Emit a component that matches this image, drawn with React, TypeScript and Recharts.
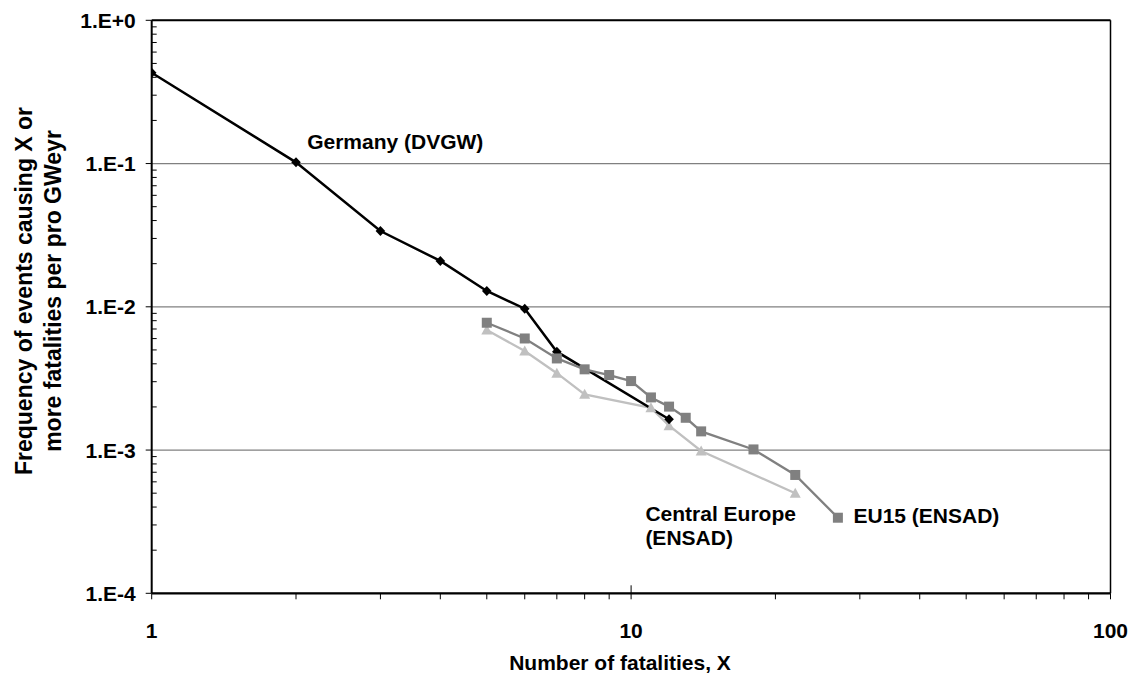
import React from 'react';
import {
  LineChart,
  Line,
  XAxis,
  YAxis,
  CartesianGrid,
  ReferenceDot,
  ReferenceLine,
} from 'recharts';

// values (log-log)
const germanyX = [1, 2, 3, 4, 5, 6, 7, 12];
const germanyY = [0.43, 0.102, 0.0338, 0.0209, 0.0129, 0.0097, 0.00486, 0.00164];

const eu15X = [5, 6, 7, 8, 9, 10, 11, 12, 13, 14, 18, 22, 27];
const eu15Y = [0.00774, 0.00601, 0.00436, 0.00366, 0.00334, 0.00303, 0.00233, 0.00201, 0.00168, 0.00135, 0.00101, 0.00067, 0.000337];

const centralX = [5, 6, 7, 8, 11, 12, 14, 22];
const centralY = [0.00689, 0.00491, 0.00344, 0.00245, 0.00197, 0.00148, 0.000985, 0.000499];

const xTicks = [1, 2, 3, 4, 5, 6, 7, 8, 9, 10, 20, 30, 40, 50, 60, 70, 80, 90, 100];
const xLabelled = [1, 10, 100];
const yTicks = [0.0001, 0.001, 0.01, 0.1, 1];
const yMinorTicks = [0.0001, 0.001, 0.01, 0.1].flatMap(d => [2, 3, 4, 5, 6, 7, 8, 9].map(m => +(d * m).toPrecision(3)));

const zip = (xs: number[], ys: number[]) => xs.map((x, i) => ({ x, y: ys[i] }));
const germany = zip(germanyX, germanyY);
const eu15 = zip(eu15X, eu15Y);
const central = zip(centralX, centralY);

const FONT = '"Liberation Sans", Arial, sans-serif';

const expLabel = (v: number) => {
  const e = Math.round(Math.log10(v));
  return `1.E${e >= 0 ? '+' : ''}${e}`;
};

const Diamond = (props: any) => {
  const { cx, cy, index } = props;
  if (cx == null || cy == null) return null;
  return <path key={`g-${index}`} d={`M${cx},${cy - 5}L${cx + 4.8},${cy}L${cx},${cy + 5}L${cx - 4.8},${cy}Z`} fill="#000" />;
};

const Square = (props: any) => {
  const { cx, cy, index } = props;
  if (cx == null || cy == null) return null;
  return <rect key={`s-${index}`} x={cx - 5} y={cy - 5} width={10} height={10} fill="#808080" />;
};

const Triangle = (props: any) => {
  const { cx, cy, index } = props;
  if (cx == null || cy == null) return null;
  return <path key={`t-${index}`} d={`M${cx},${cy - 5.5}L${cx + 5.5},${cy + 4.5}L${cx - 5.5},${cy + 4.5}Z`} fill="#c0c0c0" />;
};

const Anno = (props: any) => {
  const { viewBox, lines } = props;
  if (!viewBox) return null;
  const { x, y } = viewBox;
  return (
    <text x={x} y={y} fontSize={21} fontWeight="bold" fontFamily={FONT} fill="#000" dominantBaseline="central">
      {lines.map((l: string, i: number) => (
        <tspan key={i} x={x} dy={i === 0 ? 0 : 24}>{l}</tspan>
      ))}
    </text>
  );
};

const XTitle = () => (
  <text x={620} y={670} textAnchor="middle" fontSize={21} fontWeight="bold" fontFamily={FONT} fill="#000">
    Number of fatalities, X
  </text>
);

const YTitle = () => (
  <text transform="translate(0,291) rotate(-90)" textAnchor="middle" fontSize={23} fontWeight="bold" fontFamily={FONT} fill="#000">
    <tspan x={0} y={32}>Frequency of events causing X or</tspan>
    <tspan x={0} y={61}>more fatalities per pro GWeyr</tspan>
  </text>
);

const tickStyle = { fontSize: 21, fontWeight: 'bold', fontFamily: FONT, fill: '#000' };

export default function App() {
  return (
    <div style={{ position: 'absolute', left: 0, top: 0, background: '#fff' }}>
      <LineChart width={1137} height={684} margin={{ top: 20.3, right: 26.5, left: 0, bottom: 0 }}>
        <CartesianGrid horizontal vertical={false} stroke="#808080" strokeWidth={1.3} />
        <XAxis
          xAxisId={0}
          dataKey="x"
          type="number"
          scale="log"
          domain={[1, 100]}
          allowDataOverflow
          ticks={xTicks}
          interval={0}
          height={90.7}
          tickSize={6}
          tickMargin={24}
          tickFormatter={(v: number) => (xLabelled.includes(v) ? String(v) : '')}
          tick={tickStyle}
          tickLine={{ stroke: '#000' }}
          axisLine={{ stroke: '#000', strokeWidth: 2.3 }}
          label={<XTitle />}
        />
        <XAxis
          xAxisId="up"
          dataKey="x"
          type="number"
          scale="log"
          domain={[1, 100]}
          allowDataOverflow
          ticks={[10]}
          mirror
          height={1}
          tickSize={8}
          tickFormatter={() => ''}
          tickLine={{ stroke: '#000' }}
          axisLine={false}
        />
        <YAxis
          yAxisId={0}
          dataKey="y"
          type="number"
          scale="log"
          domain={[0.0001, 1]}
          allowDataOverflow
          ticks={yTicks}
          interval={0}
          width={151.7}
          tickSize={6}
          tickMargin={10}
          tickFormatter={expLabel}
          tick={tickStyle}
          tickLine={{ stroke: '#000' }}
          axisLine={{ stroke: '#000', strokeWidth: 2 }}
          label={<YTitle />}
        />
        <YAxis
          yAxisId="minor"
          dataKey="y"
          type="number"
          scale="log"
          domain={[0.0001, 1]}
          allowDataOverflow
          ticks={yMinorTicks}
          interval={0}
          mirror
          width={1}
          tickSize={5}
          tickFormatter={() => ''}
          tickLine={{ stroke: '#000' }}
          axisLine={false}
        />
        <ReferenceLine y={1} stroke="#000" strokeWidth={2} ifOverflow="visible" />
        <ReferenceLine x={100} stroke="#000" strokeWidth={1.5} ifOverflow="visible" />

        <Line data={central} dataKey="y" stroke="#c0c0c0" strokeWidth={2.3} dot={Triangle} activeDot={false} isAnimationActive={false} />
        <Line data={germany} dataKey="y" stroke="#000" strokeWidth={2.5} dot={Diamond} activeDot={false} isAnimationActive={false} />
        <Line data={eu15} dataKey="y" stroke="#808080" strokeWidth={2.3} dot={Square} activeDot={false} isAnimationActive={false} />

        <ReferenceDot x={2.11} y={0.1437} r={0} fill="none" stroke="none" label={<Anno lines={['Germany (DVGW)']} />} />
        <ReferenceDot x={10.71} y={0.000364} r={0} fill="none" stroke="none" label={<Anno lines={['Central Europe', '(ENSAD)']} />} />
        <ReferenceDot x={29.1} y={0.000352} r={0} fill="none" stroke="none" label={<Anno lines={['EU15 (ENSAD)']} />} />
      </LineChart>
    </div>
  );
}
